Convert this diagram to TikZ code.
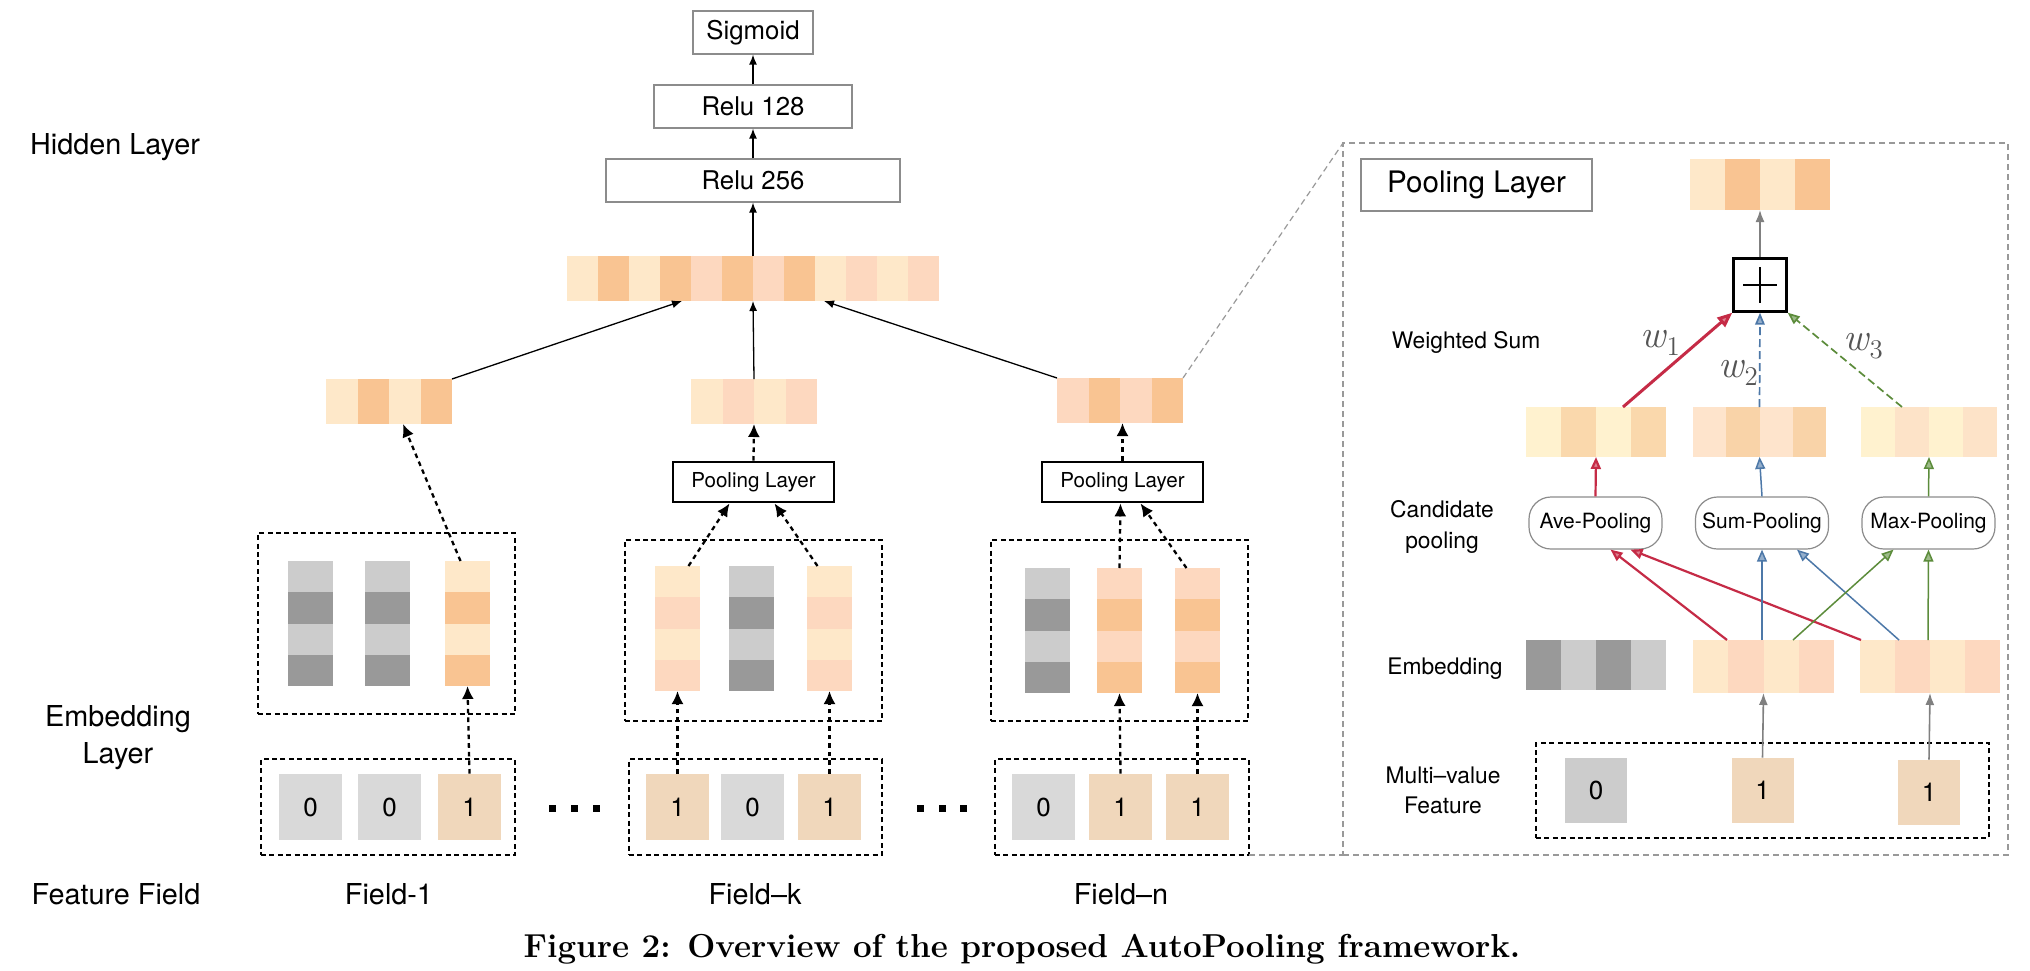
\documentclass[tikz,border=0pt]{standalone}
\usepackage{fontspec}
\setsansfont{TeX Gyre Heros}
\usetikzlibrary{arrows.meta,fit,calc}

\definecolor{cL}{RGB}{254,232,201}
\definecolor{cO}{RGB}{249,196,146}
\definecolor{cP}{RGB}{253,216,191}
\definecolor{gL}{RGB}{204,204,204}
\definecolor{gD}{RGB}{153,153,153}
\definecolor{fG}{RGB}{217,217,217}
\definecolor{fP}{RGB}{240,215,187}
\definecolor{yA}{RGB}{255,242,207}
\definecolor{yB}{RGB}{250,216,172}
\definecolor{pA}{RGB}{254,228,204}
\definecolor{pB}{RGB}{249,211,168}
\definecolor{mB}{RGB}{253,227,200}
\definecolor{cRed}{RGB}{197,43,70}
\definecolor{cBlue}{RGB}{77,120,168}
\definecolor{cGreen}{RGB}{92,140,59}
\definecolor{cGray}{RGB}{128,128,128}
\definecolor{bGray}{RGB}{140,140,140}
\definecolor{wGray}{RGB}{85,85,85}

% horizontal bar: x0, y0, y1, cell width, colours
\newcommand{\hcells}[5]{\foreach \cc [count=\ii from 0] in {#5} {\fill[\cc] ({#1+\ii*#4},#2) rectangle ({#1+(\ii+1)*#4},#3);}}
% vertical bar: x0, x1, y0, cell height, colours
\newcommand{\vcells}[5]{\foreach \cc [count=\ii from 0] in {#5} {\fill[\cc] (#1,{#3+\ii*#4}) rectangle (#2,{#3+(\ii+1)*#4});}}

\tikzset{
  lab/.style={font=\sffamily\fontsize{14.4}{18.5}\selectfont, inner sep=0},
  rl/.style={font=\sffamily\fontsize{11.4}{15.5}\selectfont, inner sep=0},
  gbox/.style={draw=bGray, line width=0.6pt, fill=white, inner sep=0, font=\sffamily\fontsize{12.9}{15}\selectfont, minimum height=21.5pt},
  pbox/.style={draw=black, line width=1.4pt, inner sep=0, font=\sffamily\fontsize{10.3}{12}\selectfont, minimum width=80.5pt, minimum height=20pt},
  dbox/.style={draw=black, line width=0.65pt, dash pattern=on 2.5pt off 1.7pt, inner sep=0, outer sep=0},
  area/.style={inner sep=0, outer sep=0},
  fcell/.style={inner sep=0, minimum width=31.5pt, minimum height=33pt, font=\sffamily\fontsize{13}{15}\selectfont},
  rcell/.style={inner sep=0, minimum width=31pt, minimum height=32.5pt, font=\sffamily\fontsize{13}{15}\selectfont},
  poolnode/.style={draw=bGray, line width=0.6pt, rounded corners=11pt, minimum width=66.5pt, minimum height=26pt, inner sep=0, font=\sffamily\fontsize{10.5}{12}\selectfont},
  sarr/.style={line width=0.65pt, -{Latex[length=5pt,width=4pt]}},
  darr/.style={line width=1.15pt, dash pattern=on 2.3pt off 2pt, -{Latex[length=6.5pt,width=6pt]}},
  zoomln/.style={draw=gD, line width=0.6pt, dash pattern=on 3pt off 2pt},
  redW/.style={draw=cRed, line width=1.5pt, -{Triangle[length=7.5pt,width=6pt,fill=cRed!60]}},
  blueD/.style={draw=cBlue, line width=0.85pt, dash pattern=on 4pt off 2pt, -{Triangle[length=6pt,width=4.8pt,fill=cBlue!60]}},
  greenD/.style={draw=cGreen, line width=0.85pt, dash pattern=on 4pt off 2pt, -{Triangle[length=6pt,width=4.8pt,fill=cGreen!60]}},
  redT/.style={draw=cRed, line width=1.1pt, -{Triangle[length=6pt,width=5pt,fill=cRed!60]}},
  blueT/.style={draw=cBlue, line width=0.75pt, -{Triangle[length=6pt,width=5pt,fill=cBlue!60]}},
  greenT/.style={draw=cGreen, line width=0.75pt, -{Triangle[length=6pt,width=5pt,fill=cGreen!60]}},
  grayA/.style={draw=cGray, line width=0.8pt, -{Latex[length=6pt,width=4.5pt]}},
  wlab/.style={text=wGray, inner sep=0, font=\fontsize{19.5}{21}\selectfont},
}

\begin{document}
\begin{tikzpicture}[x=0.5pt, y=-0.5pt]
\fill[white] (0,0) rectangle (2030,970);
\useasboundingbox (0,0) rectangle (2030,970);

% ---------------- left labels ----------------
\node[lab, anchor=base] (hid) at (115,154) {Hidden Layer};
\node[lab, align=center] (emb) at (118,738) {Embedding\\Layer};
\node[lab, anchor=base] (ff) at (116,904) {Feature Field};
\node[lab, anchor=base] (fl1) at (389,904) {Field-1};
\node[lab, anchor=base] (flk) at (755,904) {Field–k};
\node[lab, anchor=base] (fln) at (1121,904) {Field–n};

% ---------------- top stack ----------------
\node[gbox, minimum width=60pt] (sig) at (753,32.5) {Sigmoid};
\node[gbox, minimum width=99pt] (r128) at (753,106.5) {Relu 128};
\node[gbox, minimum width=147pt] (r256) at (753,180.5) {Relu 256};

\hcells{567}{256}{301}{31}{cL,cO,cL,cO,cP,cO,cP,cO,cL,cP,cL,cP}
\node[area, fit={(567,256) (939,301)}] (bigbar) {};

\hcells{326}{379}{424}{31.5}{cL,cO,cL,cO}
\node[area, fit={(326,379) (452,424)}] (lbar) {};
\hcells{691}{379}{424}{31.5}{cL,cP,cL,cP}
\node[area, fit={(691,379) (817,424)}] (mbar) {};
\hcells{1057}{378}{423}{31.5}{cP,cO,cP,cO}
\node[area, fit={(1057,378) (1183,423)}] (rbar) {};

\node[pbox] (pk) at (753.5,482) {Pooling Layer};
\node[pbox] (pn) at (1122.5,482) {Pooling Layer};

% ---------------- embedding columns ----------------
\node[dbox, fit={(258,533) (515,714)}] (e1box) {};
\node[dbox, fit={(625,540) (882,721)}] (ekbox) {};
\node[dbox, fit={(991,540) (1248,721)}] (enbox) {};

\vcells{288}{333}{561}{31.25}{gL,gD,gL,gD}
\node[area, fit={(288,561) (333,686)}] (c11) {};
\vcells{365}{410}{561}{31.25}{gL,gD,gL,gD}
\node[area, fit={(365,561) (410,686)}] (c12) {};
\vcells{445}{490}{561}{31.25}{cL,cO,cL,cO}
\node[area, fit={(445,561) (490,686)}] (c13) {};

\vcells{655}{700}{566}{31.25}{cL,cP,cL,cP}
\node[area, fit={(655,566) (700,691)}] (ck1) {};
\vcells{729}{774}{566}{31.25}{gL,gD,gL,gD}
\node[area, fit={(729,566) (774,691)}] (ck2) {};
\vcells{807}{852}{566}{31.25}{cL,cP,cL,cP}
\node[area, fit={(807,566) (852,691)}] (ck3) {};

\vcells{1025}{1070}{568}{31.25}{gL,gD,gL,gD}
\node[area, fit={(1025,568) (1070,693)}] (cn1) {};
\vcells{1097}{1142}{568}{31.25}{cP,cO,cP,cO}
\node[area, fit={(1097,568) (1142,693)}] (cn2) {};
\vcells{1175}{1220}{568}{31.25}{cP,cO,cP,cO}
\node[area, fit={(1175,568) (1220,693)}] (cn3) {};

% ---------------- feature fields ----------------
\node[dbox, fit={(261,759) (515,855)}] (f1box) {};
\node[dbox, fit={(629,759) (882,855)}] (fkbox) {};
\node[dbox, fit={(995,759) (1249,855)}] (fnbox) {};

\node[fcell, fill=fG] (f11) at (310.5,807) {0};
\node[fcell, fill=fG] (f12) at (389.5,807) {0};
\node[fcell, fill=fP] (f13) at (469.5,807) {1};
\node[fcell, fill=fP] (fk1) at (677.5,807) {1};
\node[fcell, fill=fG] (fk2) at (752.5,807) {0};
\node[fcell, fill=fP] (fk3) at (829.5,807) {1};
\node[fcell, fill=fG] (fn1) at (1043.5,807) {0};
\node[fcell, fill=fP] (fn2) at (1120.5,807) {1};
\node[fcell, fill=fP] (fn3) at (1197.5,807) {1};

% dots
\foreach \dx in {552,574,596,920,942,963} {\fill (\dx-3.5,804.5) rectangle (\dx+3.5,811.5);}

% ---------------- left arrows ----------------
\draw[sarr] (bigbar.north) -- (r256.south);
\draw[sarr] (r256.north) -- (r128.south);
\draw[sarr] (r128.north) -- (sig.south);
\draw[sarr] (lbar.north east) -- ($(bigbar.south west)+(115,0)$);
\draw[sarr] (mbar.north) -- (bigbar.south);
\draw[sarr] (rbar.north west) -- ($(bigbar.south west)+(257,0)$);

\draw[darr] (f13.north) -- (c13.south);
\draw[darr] ($(c13.north)+(-7,0)$) -- ($(lbar.south)+(14,0)$);
\draw[darr] (fk1.north) -- (ck1.south);
\draw[darr] (fk3.north) -- (ck3.south);
\draw[darr] ($(ck1.north)+(11,0)$) -- ($(pk.south)+(-24,0)$);
\draw[darr] ($(ck3.north)+(-12,0)$) -- ($(pk.south)+(21,0)$);
\draw[darr] (pk.north) -- (mbar.south);
\draw[darr] (fn2.north) -- (cn2.south);
\draw[darr] (fn3.north) -- (cn3.south);
\draw[darr] (cn2.north) -- ($(pn.south)+(-2,0)$);
\draw[darr] ($(cn3.north)+(-11,0)$) -- ($(pn.south)+(18,0)$);
\draw[darr] (pn.north) -- (pn.north |- rbar.south);

% ---------------- right panel ----------------
\node[zoomln, draw, area, fit={(1343,143) (2008,855)}] (panel) {};
\draw[zoomln] (rbar.north east) -- (panel.north west);
\draw[zoomln] (fnbox.south east) -- (panel.south west);

\node[gbox, minimum width=115.5pt, minimum height=26pt, font=\sffamily\fontsize{14.8}{17}\selectfont] (plabel) at (1476.5,185) {Pooling Layer};

\hcells{1690}{159}{210}{35}{cL,cO,cL,cO}
\node[area, fit={(1690,159) (1830,210)}] (outbar) {};

\node[draw=black, line width=1.2pt, minimum size=26.5pt, inner sep=0] (plus) at (1760,285) {};
\draw[line width=0.9pt] ($(plus.center)+(-17,0)$) -- ($(plus.center)+(17,0)$);
\draw[line width=0.9pt] ($(plus.center)+(0,-18)$) -- ($(plus.center)+(0,18)$);

\node[rl, anchor=base] (ws) at (1466,348) {Weighted Sum};
\node[wlab] (w1) at (1660,343) {\textit{w}\raisebox{-0.45ex}{\fontsize{13.5}{14}\selectfont 1}};
\node[wlab] (w2) at (1738,373) {\textit{w}\raisebox{-0.45ex}{\fontsize{13.5}{14}\selectfont 2}};
\node[wlab] (w3) at (1863,346) {\textit{w}\raisebox{-0.45ex}{\fontsize{13.5}{14}\selectfont 3}};

\hcells{1526}{407}{457}{35}{yA,yB,yA,yB}
\node[area, fit={(1526,407) (1666,457)}] (cb1) {};
\hcells{1693}{407}{457}{33.25}{pA,pB,pA,pB}
\node[area, fit={(1693,407) (1826,457)}] (cb2) {};
\hcells{1861}{407}{457}{34}{yA,mB,yA,mB}
\node[area, fit={(1861,407) (1997,457)}] (cb3) {};

\node[rl, align=center] (cp) at (1442,527) {Candidate\\pooling};
\node[poolnode] (ave) at (1595.5,523) {Ave-Pooling};
\node[poolnode] (sum) at (1762,523) {Sum-Pooling};
\node[poolnode] (max) at (1928.5,523) {Max-Pooling};

\node[rl, anchor=base] (eml) at (1445,674) {Embedding};
\hcells{1526}{640}{690}{35}{gD,gL,gD,gL}
\node[area, fit={(1526,640) (1666,690)}] (eg) {};
\hcells{1693}{640}{693}{35.25}{cL,cP,cL,cP}
\node[area, fit={(1693,640) (1834,693)}] (eb2) {};
\hcells{1860}{640}{693}{35}{cL,cP,cL,cP}
\node[area, fit={(1860,640) (2000,693)}] (eb3) {};

\node[rl, align=center, font=\sffamily\fontsize{11.4}{15}\selectfont] (mv) at (1443,790) {Multi–value\\Feature};
\node[dbox, fit={(1536,743) (1989,838)}] (rfbox) {};
\node[rcell, fill=gL] (rf1) at (1596,790.5) {0};
\node[rcell, fill=fP] (rf2) at (1762.5,790.5) {1};
\node[rcell, fill=fP] (rf3) at (1929,792.5) {1};

% right arrows
\draw[grayA] (plus.north) -- (outbar.south);
\draw[redW] ($(cb1.north west)+(97,0)$) -- (plus.south west);
\draw[blueD] (cb2.north) -- (plus.south);
\draw[greenD] ($(cb3.north west)+(41,0)$) -- (plus.south east);
\draw[redT] (ave.north) -- (cb1.south);
\draw[blueT] (sum.north) -- (cb2.south);
\draw[greenT] (max.north) -- (cb3.south);
\draw[redT] ($(eb2.north west)+(34,0)$) -- ($(ave.south)+(15,0)$);
\draw[redT] ($(eb3.north west)+(1,0)$) -- ($(ave.south)+(35,0)$);
\draw[blueT] ($(eb2.north west)+(69,0)$) -- (sum.south);
\draw[blueT] ($(eb3.north west)+(39,0)$) -- ($(sum.south)+(35,0)$);
\draw[greenT] ($(eb2.north west)+(100,0)$) -- ($(max.south)+(-35,0)$);
\draw[greenT] ($(eb3.north west)+(68,0)$) -- (max.south);
\draw[grayA] (rf2.north) -- (eb2.south);
\draw[grayA] (rf3.north) -- (eb3.south);

% caption
\node[font=\bfseries\fontsize{16.6}{19}\selectfont, anchor=base, inner sep=0] (cap) at (1022,957) {Figure 2: Overview of the proposed AutoPooling framework.};
\end{tikzpicture}
\end{document}
